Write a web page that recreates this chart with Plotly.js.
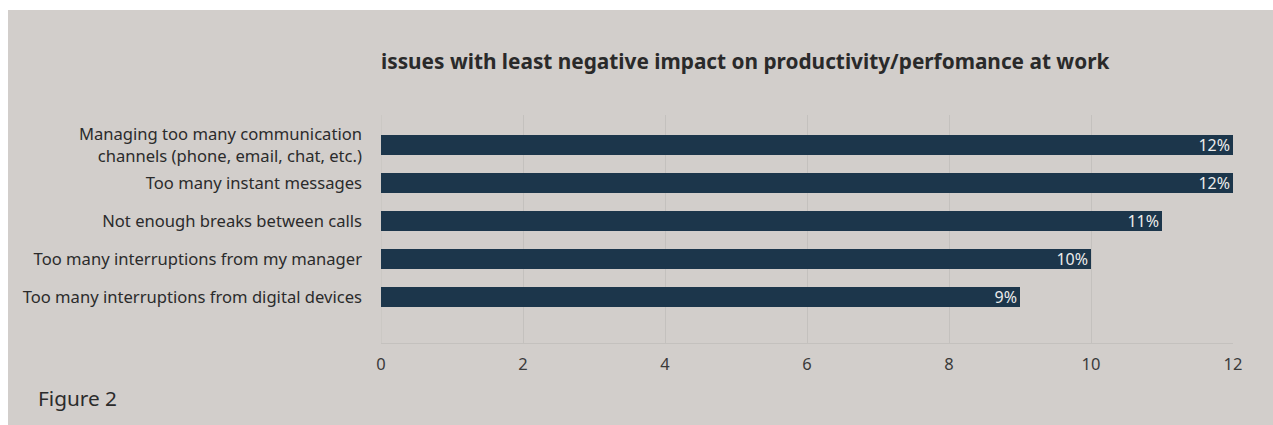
<!DOCTYPE html>
<html>
<head>
<meta charset="utf-8">
<script src="https://cdn.plot.ly/plotly-3.0.1.min.js"></script>
<style>
  html, body { margin: 0; padding: 0; background: #ffffff; }
  #chart { position: absolute; left: 8px; top: 10px; width: 1265px; height: 415px; }
</style>
</head>
<body>
<div id="chart"></div>
<script>
// Categories listed top to bottom as in the chart
const categories = [
  "Managing too many communication<br>channels (phone, email, chat, etc.)",
  "Too many instant messages",
  "Not enough breaks between calls",
  "Too many interruptions from my manager",
  "Too many interruptions from digital devices"
];
const values = [12, 12, 11, 10, 9];
const valueLabels = ["12%", "12%", "11%", "10%", "9%"];
const xTicks = [0, 2, 4, 6, 8, 10, 12];

const chartTitle = "issues with least negative impact on productivity/perfomance at work";
const figureLabel = "Figure 2";

// plot bottom-to-top so first category sits at the top
const yCats = categories.slice().reverse();
const xVals = values.slice().reverse();
const texts = valueLabels.slice().reverse();

const trace = {
  type: "bar",
  orientation: "h",
  x: xVals,
  y: yCats,
  text: texts,
  textposition: "inside",
  insidetextanchor: "end",
  constraintext: "none",
  textfont: { family: "Noto Sans", size: 16, color: "#ececec" },
  marker: { color: "#1c364b" },
  width: 0.53,
  hoverinfo: "none"
};

const layout = {
  width: 1265,
  height: 415,
  paper_bgcolor: "#d2cecb",
  plot_bgcolor: "#d2cecb",
  margin: { l: 373, r: 40, t: 105, b: 82 },
  showlegend: false,
  font: { family: "Noto Sans", color: "#2b2b2b" },
  title: {
    text: "<b>" + chartTitle + "</b>",
    font: { family: "Noto Sans", size: 20.8, color: "#2a2a2a" },
    xref: "paper", x: 0, xanchor: "left",
    yref: "container", y: 0.875, yanchor: "middle"
  },
  xaxis: {
    range: [0, 12],
    tickvals: xTicks,
    ticktext: xTicks.map(String),
    showgrid: true,
    gridcolor: "#c4c1be",
    gridwidth: 1,
    zeroline: false,
    showline: true,
    linecolor: "#c4c1be",
    linewidth: 1,
    ticks: "",
    tickfont: { family: "Noto Sans", size: 16.5, color: "#3a3a3a" },
    ticklabelstandoff: 6,
    fixedrange: true
  },
  yaxis: {
    type: "category",
    categoryorder: "array",
    categoryarray: yCats,
    range: [-1.21, 4.79],
    showgrid: false,
    zeroline: false,
    showline: false,
    ticks: "",
    ticklabelstandoff: 18,
    tickfont: { family: "Noto Sans", size: 16.6, color: "#2b2b2b" },
    fixedrange: true
  },
  shapes: [{
    type: "line", xref: "x", yref: "paper",
    x0: 0, x1: 0, y0: 0, y1: 1,
    line: { color: "#c4c1be", width: 1 },
    layer: "below"
  }],
  annotations: [{
    text: figureLabel,
    xref: "paper", yref: "paper",
    x: -0.405, y: -0.241,
    xanchor: "left", yanchor: "middle",
    showarrow: false,
    font: { family: "Noto Sans", size: 20.8, color: "#2b2b2b" }
  }]
};

Plotly.newPlot("chart", [trace], layout, { displayModeBar: false, staticPlot: true });
</script>
</body>
</html>
